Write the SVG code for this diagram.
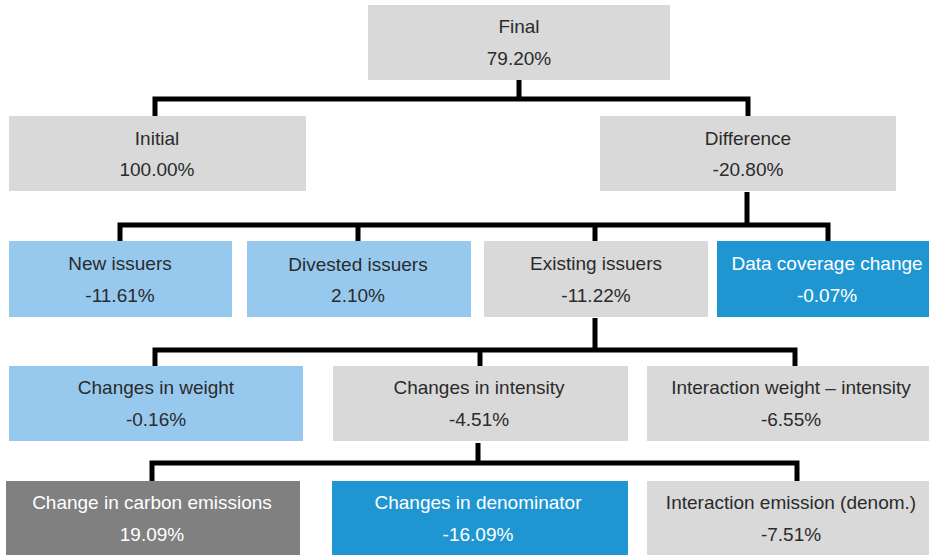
<svg xmlns="http://www.w3.org/2000/svg" width="929" height="555" viewBox="0 0 929 555">
<style>
.box{stroke:none}
.g{fill:#d9d9d9}
.lb{fill:#97c9ef}
.db{fill:#1f96d2}
.dg{fill:#808080}
text{font-family:"Liberation Sans",Arial,sans-serif;font-size:19px;text-anchor:middle;fill:#2b2b2b}
.w text{fill:#ffffff}
.c{fill:none;stroke:#000;stroke-width:5;stroke-linejoin:miter;stroke-linecap:butt}
</style>
<rect width="929" height="555" fill="#ffffff"/>
<g id="connectors">
<path class="c" d="M519 80V99M155 117V99H748V117"/>
<path class="c" d="M747 192V225M120 241V225H828V241M358 225V241M595 225V241"/>
<path class="c" d="M595 318V350M155 366V350H795V366M480 350V366"/>
<path class="c" d="M478 443V463M152 481V463H797V481"/>
</g>
<g id="final"><rect class="box g" x="368" y="5" width="302" height="75"/><text x="519" y="33">Final</text><text x="519" y="65">79.20%</text></g>
<g id="initial"><rect class="box g" x="9" y="116" width="297" height="75"/><text x="157" y="145">Initial</text><text x="157" y="176">100.00%</text></g>
<g id="difference"><rect class="box g" x="600" y="116" width="296" height="75"/><text x="748" y="145">Difference</text><text x="748" y="176">-20.80%</text></g>
<g id="new-issuers"><rect class="box lb" x="9" y="241" width="223" height="76"/><text x="120" y="270">New issuers</text><text x="120" y="302">-11.61%</text></g>
<g id="divested-issuers"><rect class="box lb" x="247" y="241" width="224" height="76"/><text x="358" y="271">Divested issuers</text><text x="358" y="302">2.10%</text></g>
<g id="existing-issuers"><rect class="box g" x="484" y="241" width="224" height="76"/><text x="596" y="270">Existing issuers</text><text x="596" y="302">-11.22%</text></g>
<g id="data-coverage-change" class="w"><rect class="box db" x="717" y="241" width="212" height="76"/><text x="827" y="270">Data coverage change</text><text x="827" y="302">-0.07%</text></g>
<g id="changes-in-weight"><rect class="box lb" x="9" y="366" width="294" height="75"/><text x="156" y="394">Changes in weight</text><text x="156" y="426">-0.16%</text></g>
<g id="changes-in-intensity"><rect class="box g" x="333" y="366" width="295" height="75"/><text x="479" y="394">Changes in intensity</text><text x="479" y="426">-4.51%</text></g>
<g id="interaction-weight-intensity"><rect class="box g" x="647" y="366" width="282" height="75"/><text x="791" y="394">Interaction weight – intensity</text><text x="791" y="426">-6.55%</text></g>
<g id="change-in-carbon-emissions" class="w"><rect class="box dg" x="6" y="481" width="294" height="74"/><text x="152" y="509">Change in carbon emissions</text><text x="152" y="541">19.09%</text></g>
<g id="changes-in-denominator" class="w"><rect class="box db" x="332" y="481" width="296" height="74"/><text x="478" y="509">Changes in denominator</text><text x="478" y="541">-16.09%</text></g>
<g id="interaction-emission" ><rect class="box g" x="647" y="481" width="282" height="74"/><text x="791" y="509">Interaction emission (denom.)</text><text x="791" y="541">-7.51%</text></g>
</svg>
